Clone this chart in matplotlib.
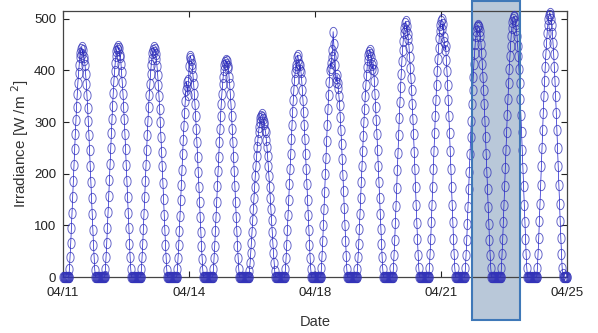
import numpy as np
import pandas as pd
import matplotlib
matplotlib.use('Agg')
import matplotlib.pyplot as plt
import matplotlib.dates as mdates
from matplotlib.patches import Rectangle
from matplotlib.path import Path
import matplotlib.transforms as mtransforms

# daylight samples of each day, one every 26 min from 03:50 (W/m^2)
apr11 = [1, 16, 39, 65, 94, 124, 155, 186, 217, 247, 276, 304, 330, 354, 376, 395, 411, 425, 434, 441,
         445, 432, 440, 426, 420, 410, 393, 374, 352, 328, 302, 274, 245, 215, 184, 153, 122, 92, 63, 37, 14, 1]
apr12 = [2, 16, 39, 65, 95, 125, 156, 187, 218, 249, 278, 306, 332, 357, 379, 398, 414, 427, 437, 444,
         448, 440, 444, 426, 430, 412, 396, 377, 355, 330, 305, 277, 247, 217, 186, 155, 124, 94, 64, 38, 15, 1]
apr13 = [1, 15, 38, 64, 93, 123, 154, 185, 216, 246, 275, 303, 329, 353, 374, 394, 410, 423, 433, 440,
         445, 436, 441, 432, 422, 408, 392, 372, 350, 326, 300, 272, 243, 214, 183, 152, 121, 91, 62, 36, 14, 1]
apr14 = [1, 15, 37, 62, 90, 119, 149, 179, 208, 238, 266, 293, 318, 341, 362, 378, 370, 352, 381, 408,
         424, 428, 421, 412, 404, 390, 374, 355, 334, 311, 287, 261, 233, 204, 175, 146, 117, 88, 60, 35, 14, 1]
apr15 = [1, 15, 37, 61, 89, 117, 146, 176, 205, 233, 261, 287, 312, 334, 355, 373, 388, 401, 410, 416,
         420, 412, 418, 405, 408, 388, 373, 355, 334, 312, 287, 261, 233, 205, 176, 146, 117, 89, 61, 37, 15, 1]
apr16 = [1, 11, 27, 46, 66, 88, 110, 132, 153, 175, 196, 215, 234, 251, 266, 280, 291, 301, 307, 312,
         315, 310, 305, 296, 300, 285, 280, 266, 251, 234, 215, 196, 175, 153, 132, 110, 88, 66, 46, 27, 11, 1]
apr17 = [1, 15, 37, 63, 91, 120, 150, 180, 209, 239, 267, 294, 319, 342, 363, 382, 397, 410, 405, 426,
         430, 420, 412, 400, 410, 397, 382, 363, 342, 319, 294, 267, 239, 209, 180, 150, 120, 91, 63, 37, 15, 1]
apr18 = [1, 17, 41, 69, 100, 132, 165, 199, 231, 264, 295, 325, 352, 378, 401, 415, 405, 425, 440, 475,
         452, 430, 410, 385, 378, 392, 376, 365, 350, 333, 310, 285, 258, 229, 198, 166, 133, 100, 69, 41, 16, 1]
apr19 = [1, 15, 38, 64, 93, 122, 153, 184, 214, 244, 273, 301, 326, 350, 372, 391, 407, 420, 429, 436,
         440, 432, 425, 410, 402, 415, 400, 380, 355, 330, 304, 276, 246, 215, 184, 153, 122, 93, 64, 38, 15, 1]
apr20 = [1, 17, 43, 72, 104, 138, 172, 207, 241, 275, 307, 339, 367, 394, 418, 440, 457, 472, 483, 491,
         495, 478, 485, 470, 460, 445, 425, 405, 385, 362, 335, 306, 276, 243, 210, 174, 139, 105, 73, 43, 17, 1]
apr21 = [1, 18, 44, 73, 106, 139, 174, 209, 244, 278, 311, 342, 371, 398, 423, 444, 462, 477, 488, 496,
         500, 480, 490, 465, 455, 440, 448, 420, 398, 371, 342, 311, 278, 244, 209, 174, 139, 106, 73, 44, 18, 1]
apr22 = [1, 17, 42, 71, 103, 136, 170, 204, 238, 271, 303, 334, 362, 388, 412, 433, 451, 466, 476, 484,
         488, 486, 484, 476, 466, 451, 433, 412, 388, 362, 334, 303, 271, 238, 204, 170, 136, 103, 71, 42, 17, 1]
apr23 = [1, 18, 44, 74, 107, 140, 176, 211, 246, 280, 314, 345, 375, 402, 427, 448, 467, 482, 493, 500,
         505, 503, 496, 490, 478, 467, 448, 427, 402, 375, 345, 314, 280, 246, 211, 176, 140, 107, 74, 44, 18, 1]
apr24 = [1, 18, 45, 75, 108, 142, 178, 214, 249, 284, 318, 350, 380, 407, 432, 454, 473, 488, 500, 507,
         512, 508, 500, 488, 473, 454, 432, 407, 380, 350, 318, 284, 249, 214, 178, 142, 108, 75, 45, 18, 6, 1]
days = [apr11, apr12, apr13, apr14, apr15, apr16, apr17, apr18, apr19, apr20, apr21, apr22, apr23, apr24]

start, end = '2013-04-11', '2013-04-25'
day_first = pd.Timedelta('03:50:00')
day_step = pd.Timedelta(minutes=26)
night_step = '20min'
tick_labels = ['04/11', '04/14', '04/18', '04/21', '04/25']
highlight = ('2013-04-22 08:30', '2013-04-23 16:30')

# daylight samples
t_day, v_day = [], []
for d, vals in enumerate(days):
    base = pd.Timestamp(start) + pd.Timedelta(days=d) + day_first
    for k, v in enumerate(vals):
        t_day.append(base + k * day_step)
        v_day.append(v)
day_last = day_first + (len(apr11) - 1) * day_step

# night samples (zero irradiance)
grid = pd.date_range(start, end, freq=night_step)
tod = grid - grid.normalize()
night = grid[(tod < day_first) | (tod > day_last)]

series = pd.Series(np.r_[v_day, np.zeros(len(night))],
                   index=pd.DatetimeIndex(t_day).append(night)).sort_index()

font = 'Liberation Sans'

fig = plt.figure(figsize=(5.98, 3.33), dpi=100)
ax = fig.add_axes([0.1054, 0.168, 0.8428, 0.799])

# slightly tall ellipse marker (source image is squeezed horizontally)
th = np.linspace(0, 2 * np.pi, 40)
ell = Path(np.column_stack([0.7 * np.cos(th), np.sin(th)]), closed=True)

ax.plot(series.index, series.values, color=(0.1, 0.1, 0.8), lw=0.5, marker=ell, ms=7.4,
        mfc='none', mec=(0.2, 0.2, 0.72, 0.8), mew=0.65, clip_on=False, zorder=3)

ax.set_ylim(0, 515)
ax.set_yticks([0, 100, 200, 300, 400, 500])
t0, t1 = pd.Timestamp(start), pd.Timestamp(end)
ax.set_xlim(t0, t1)
ax.set_xticks(pd.date_range(t0, t1, periods=5))
ax.set_xticklabels(tick_labels)

ax.tick_params(direction='in', length=4, width=0.8, top=True, right=True,
               labelsize=9.5, colors='#222222')
ax.tick_params(axis='x', pad=7)
ax.tick_params(axis='y', pad=5)
for s in ax.spines.values():
    s.set_color('#444444')
    s.set_linewidth(0.9)
for lab in ax.get_xticklabels() + ax.get_yticklabels():
    lab.set_family(font)

ax.set_ylabel('Irradiance [W /m $^{2}$]', fontsize=11, family=font,
              color='#333333', labelpad=2)
ax.set_xlabel('Date', fontsize=10.5, family=font, color='#333333', labelpad=12)

# highlighted period, fill under the data, outline on top
trans = mtransforms.blended_transform_factory(ax.transData, ax.transAxes)
hx0 = mdates.date2num(pd.Timestamp(highlight[0]))
hx1 = mdates.date2num(pd.Timestamp(highlight[1]))
ax.add_patch(Rectangle((hx0, -0.162), hx1 - hx0, 1.2, transform=trans,
                       facecolor='#b9c8d9', edgecolor='none',
                       clip_on=False, zorder=1))
ax.add_patch(Rectangle((hx0, -0.162), hx1 - hx0, 1.2, transform=trans,
                       facecolor='none', edgecolor='#3f78b8', lw=1.5,
                       clip_on=False, zorder=5))

fig.savefig('out.png', dpi=100)
